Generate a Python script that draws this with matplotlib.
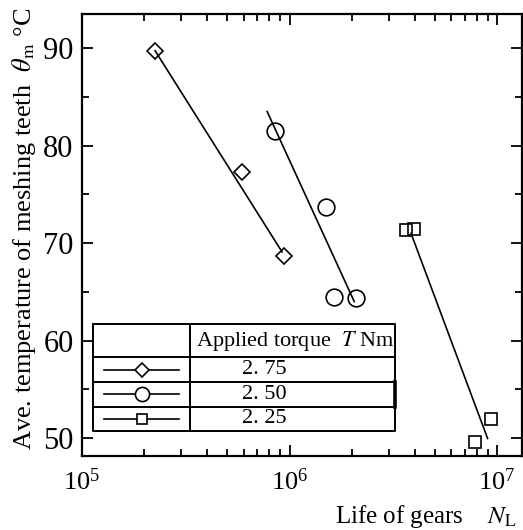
import matplotlib
matplotlib.use("Agg")
import matplotlib.pyplot as plt
from matplotlib.ticker import LogLocator, MultipleLocator, NullFormatter

plt.rcParams['font.family'] = ['Liberation Serif', 'DejaVu Serif']
plt.rcParams['mathtext.fontset'] = 'stix'

# data (life in cycles, temperature in deg C)
torques = ["2. 75", "2. 50", "2. 25"]
markers = ["D", "o", "s"]
marker_sizes = [8.5, 12, 8]

life_275 = [2.25e5, 5.9e5, 9.45e5]
temp_275 = [89.75, 77.35, 68.7]
life_250 = [8.55e5, 1.50e6, 1.63e6, 2.08e6]
temp_250 = [81.55, 73.75, 64.5, 64.35]
life_225 = [3.63e6, 3.96e6, 7.85e6, 9.3e6]
temp_225 = [71.35, 71.45, 49.6, 51.95]

# fitted lines (end points)
fit_life_275 = [2.25e5, 9.2e5]
fit_temp_275 = [89.75, 69.1]
fit_life_250 = [7.8e5, 2.05e6]
fit_temp_250 = [83.5, 64.0]
fit_life_225 = [3.85e6, 9.0e6]
fit_temp_225 = [71.0, 49.95]

W, H = 523, 530
fig = plt.figure(figsize=(W / 100, H / 100), dpi=100)
ax_l, ax_r, ax_t, ax_b = 82, 522, 14, 455.5
ax = fig.add_axes([ax_l / W, 1 - ax_b / H, (ax_r - ax_l) / W, (ax_b - ax_t) / H])

series = [
    (life_275, temp_275, fit_life_275, fit_temp_275),
    (life_250, temp_250, fit_life_250, fit_temp_250),
    (life_225, temp_225, fit_life_225, fit_temp_225),
]
for (lx, ty, fx, fy), m, ms in zip(series, markers, marker_sizes):
    ax.plot(fx, fy, color='black', lw=1.2, zorder=2)
    ax.plot(lx, ty, ls='none', marker=m, ms=ms, mfc='none', mec='black', mew=1.2, zorder=3)

ax.set_xscale('log')
ax.set_xlim(1e5, 10 ** 7.12)
ax.set_ylim(48.2, 93.52)
ax.xaxis.set_major_locator(LogLocator(base=10, numticks=10))
ax.xaxis.set_minor_locator(LogLocator(base=10, subs=range(2, 10), numticks=20))
ax.xaxis.set_minor_formatter(NullFormatter())
ax.yaxis.set_minor_locator(MultipleLocator(5))
ax.set_yticks([50, 60, 70, 80, 90])

ax.tick_params(which='both', direction='in', top=True, right=True, width=1.3)
ax.tick_params(which='major', length=8)
ax.tick_params(axis='x', which='major', pad=9, labelsize=19)
ax.tick_params(axis='y', which='major', pad=6, labelsize=22)
ax.tick_params(which='minor', length=5)
for s in ax.spines.values():
    s.set_linewidth(1.6)

fig.text(335 / W, 1 - 523 / H, "Life of gears    $N_{\\rm L}$", fontsize=18,
         ha='left', va='baseline')
fig.text(24 / W, 1 - 229 / H,
         "Ave. temperature of meshing teeth  $\\theta_{\\rm m}$ \u00b0C",
         fontsize=19, rotation=90, ha='center', va='center')


# legend drawn as a small table in axes coordinates
def fx(x):
    return (x - ax_l) / (ax_r - ax_l)


def fy(y):
    return (ax_b - y) / (ax_b - ax_t)


tl, tc, tr = 93.3, 190, 395
rows = [324, 357.3, 381.7, 406.7, 431]
kw = dict(transform=ax.transAxes, color='black', lw=1.4, clip_on=False, zorder=5)
ax.plot([fx(tl), fx(tr), fx(tr), fx(tl), fx(tl)],
        [fy(rows[0]), fy(rows[0]), fy(rows[-1]), fy(rows[-1]), fy(rows[0])], **kw)
ax.plot([fx(tc), fx(tc)], [fy(rows[0]), fy(rows[-1])], **kw)
for r in rows[1:-1]:
    ax.plot([fx(tl), fx(tr)], [fy(r), fy(r)], **kw)
ax.plot([fx(tr), fx(tr)], [fy(rows[2]), fy(rows[3])], transform=ax.transAxes,
        color='black', lw=2.6, clip_on=False, zorder=5)

ax.text(fx(196), fy((rows[0] + rows[1]) / 2), "Applied torque  $\\mathit{T}$ Nm",
        transform=ax.transAxes, fontsize=16, ha='left', va='center')
for i, (lab, m, ms) in enumerate(zip(torques, markers, marker_sizes)):
    yc = fy((rows[i + 1] + rows[i + 2]) / 2)
    ax.plot([fx(104), fx(179)], [yc, yc], transform=ax.transAxes, color='black',
            lw=1.2, clip_on=False, zorder=5)
    ax.plot([fx(141.7)], [yc], transform=ax.transAxes, ls='none', marker=m,
            ms=ms * 0.85, mfc='white', mec='black', mew=1.2, clip_on=False, zorder=6)
    ax.text(fx(264), yc, lab, transform=ax.transAxes, fontsize=16,
            ha='center', va='center')

fig.savefig("out.png", dpi=100)
